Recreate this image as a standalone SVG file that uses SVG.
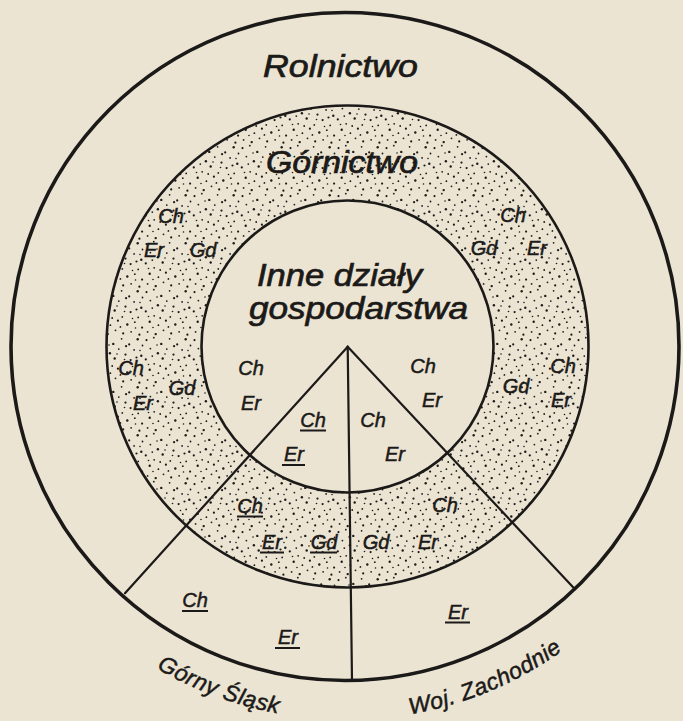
<svg xmlns="http://www.w3.org/2000/svg" width="683" height="721" viewBox="0 0 683 721">
<style>
  .ink { fill: none; stroke: #1c1a18; }
  .big { font-family: "Liberation Sans", Arial, sans-serif; font-style: italic; font-size: 31px; fill: #1c1a18; stroke: #1c1a18; stroke-width: 0.7; }
  .lab { font-family: "Liberation Sans", Arial, sans-serif; font-style: italic; font-size: 20px; fill: #1c1a18; stroke: #1c1a18; stroke-width: 0.5; text-anchor: middle; }
  .arc { font-family: "Liberation Sans", Arial, sans-serif; font-style: italic; font-size: 23px; fill: #1c1a18; stroke: #1c1a18; stroke-width: 0.5; letter-spacing: 0.5px; }
  .ul { stroke: #1c1a18; stroke-width: 2; }
</style>
<defs>
  <pattern id="dots" width="48" height="48" patternUnits="userSpaceOnUse">
    <g fill="#1c1a18">
      <circle cx="2.5" cy="4.1" r="1.1"/><circle cx="9.8" cy="1.7" r="0.9"/><circle cx="17.3" cy="7.9" r="1.2"/>
      <circle cx="25.6" cy="2.8" r="0.9"/><circle cx="33.2" cy="8.4" r="1.1"/><circle cx="41.7" cy="3.3" r="1.2"/>
      <circle cx="6.4" cy="12.6" r="0.9"/><circle cx="13.9" cy="17.2" r="1.2"/><circle cx="22.8" cy="13.1" r="0.9"/>
      <circle cx="29.5" cy="18.6" r="1.1"/><circle cx="38.1" cy="13.9" r="0.9"/><circle cx="45.3" cy="19.7" r="1.2"/>
      <circle cx="1.8" cy="23.4" r="1.1"/><circle cx="10.2" cy="27.8" r="0.9"/><circle cx="18.7" cy="22.5" r="1.2"/>
      <circle cx="26.3" cy="28.9" r="0.9"/><circle cx="34.6" cy="24.1" r="1.1"/><circle cx="42.2" cy="29.4" r="0.9"/>
      <circle cx="5.7" cy="33.8" r="1.2"/><circle cx="14.4" cy="37.2" r="0.9"/><circle cx="21.9" cy="32.7" r="1.1"/>
      <circle cx="31.3" cy="36.5" r="1.2"/><circle cx="38.8" cy="34.2" r="0.9"/><circle cx="46.1" cy="39.6" r="1.1"/>
      <circle cx="3.6" cy="43.9" r="0.9"/><circle cx="11.7" cy="46.1" r="1.2"/><circle cx="19.5" cy="42.3" r="0.9"/>
      <circle cx="27.2" cy="45.4" r="1.1"/><circle cx="35.1" cy="43.8" r="0.9"/><circle cx="43.4" cy="46.7" r="1.1"/>
      <circle cx="8.3" cy="20.1" r="0.9"/><circle cx="30.1" cy="10.2" r="1.1"/><circle cx="16.2" cy="30.0" r="0.9"/>
      <circle cx="40.5" cy="21.5" r="1.1"/><circle cx="24.4" cy="38.9" r="0.9"/><circle cx="46.5" cy="9.5" r="0.9"/>
      <circle cx="13.0" cy="9.0" r="0.8"/><circle cx="36.5" cy="30.5" r="0.8"/>
      <circle cx="21.0" cy="18.0" r="0.8"/><circle cx="4.5" cy="28.5" r="0.8"/><circle cx="44.0" cy="14.5" r="0.8"/>
      <circle cx="28.5" cy="23.5" r="0.8"/><circle cx="9.0" cy="39.5" r="0.8"/><circle cx="39.5" cy="40.0" r="0.8"/>
    </g>
  </pattern>
  <path id="arcLeft" d="M 131.1 652.0 A 373 373 0 0 0 312.5 718.1"/>
  <path id="arcRight" d="M 377.6 718.7 A 374 374 0 0 0 585.4 633.0"/>
</defs>

<rect x="0" y="0" width="683" height="721" fill="#ebe4d3"/>

<g id="ring-rolnictwo">
  <circle class="ink" cx="345" cy="346.5" r="334" stroke-width="3.6"/>
  <text class="big" x="263" y="77" textLength="155" lengthAdjust="spacingAndGlyphs">Rolnictwo</text>
</g>

<g id="ring-gornictwo">
  <circle cx="347.5" cy="346.5" r="241" fill="url(#dots)" stroke="#1c1a18" stroke-width="2.6"/>
  <text class="big" x="266" y="173" textLength="152" lengthAdjust="spacingAndGlyphs">Górnictwo</text>
</g>

<g id="core-inne">
  <circle cx="347.5" cy="346.5" r="146" fill="#ebe4d3" stroke="#1c1a18" stroke-width="2.6"/>
  <text class="big" x="257" y="286" textLength="165" lengthAdjust="spacingAndGlyphs">Inne działy</text>
  <text class="big" x="249" y="319" textLength="219" lengthAdjust="spacingAndGlyphs">gospodarstwa</text>
</g>

<g id="connectors" class="ink" stroke-width="2.2" stroke-linecap="round">
  <line x1="347.7" y1="346.7" x2="125" y2="593.3"/>
  <line x1="347.7" y1="346.7" x2="575" y2="589.3"/>
  <line x1="347.7" y1="346.7" x2="352" y2="680.5"/>
</g>

<g id="labels-general">
  <text class="lab" x="171" y="223">Ch</text>
  <text class="lab" x="154" y="257">Er</text>
  <text class="lab" x="203" y="257">Gd</text>
  <text class="lab" x="131" y="375">Ch</text>
  <text class="lab" x="182" y="395">Gd</text>
  <text class="lab" x="143" y="410">Er</text>
  <text class="lab" x="251" y="375">Ch</text>
  <text class="lab" x="251" y="410">Er</text>
  <text class="lab" x="513" y="222">Ch</text>
  <text class="lab" x="484" y="255">Gd</text>
  <text class="lab" x="537" y="255">Er</text>
  <text class="lab" x="563" y="373">Ch</text>
  <text class="lab" x="516" y="393">Gd</text>
  <text class="lab" x="561" y="407">Er</text>
  <text class="lab" x="423" y="373">Ch</text>
  <text class="lab" x="432" y="407">Er</text>
</g>

<g id="sector-gorny-slask">
  <text class="lab" x="313" y="427">Ch</text>
  <line class="ul" x1="300" y1="430.5" x2="326" y2="430.5"/>
  <text class="lab" x="294" y="461">Er</text>
  <line class="ul" x1="282" y1="465" x2="305" y2="465"/>
  <text class="lab" x="250" y="513">Ch</text>
  <line class="ul" x1="237" y1="516.5" x2="263" y2="516.5"/>
  <text class="lab" x="272" y="549">Er</text>
  <line class="ul" x1="260" y1="552.5" x2="284" y2="552.5"/>
  <text class="lab" x="324" y="549">Gd</text>
  <line class="ul" x1="310" y1="552.5" x2="337" y2="552.5"/>
  <text class="lab" x="195" y="607">Ch</text>
  <line class="ul" x1="182" y1="611" x2="208" y2="611"/>
  <text class="lab" x="288" y="644">Er</text>
  <line class="ul" x1="275" y1="648" x2="300" y2="648"/>
  <text class="arc"><textPath href="#arcLeft" startOffset="30">Górny Śląsk</textPath></text>
</g>

<g id="sector-woj-zachodnie">
  <text class="lab" x="373" y="427">Ch</text>
  <text class="lab" x="395" y="461">Er</text>
  <text class="lab" x="376" y="549">Gd</text>
  <text class="lab" x="428" y="549">Er</text>
  <text class="lab" x="445" y="512">Ch</text>
  <text class="lab" x="458" y="619">Er</text>
  <line class="ul" x1="445" y1="622.5" x2="470" y2="622.5"/>
  <text class="arc"><textPath href="#arcRight" startOffset="33">Woj. Zachodnie</textPath></text>
</g>
</svg>
